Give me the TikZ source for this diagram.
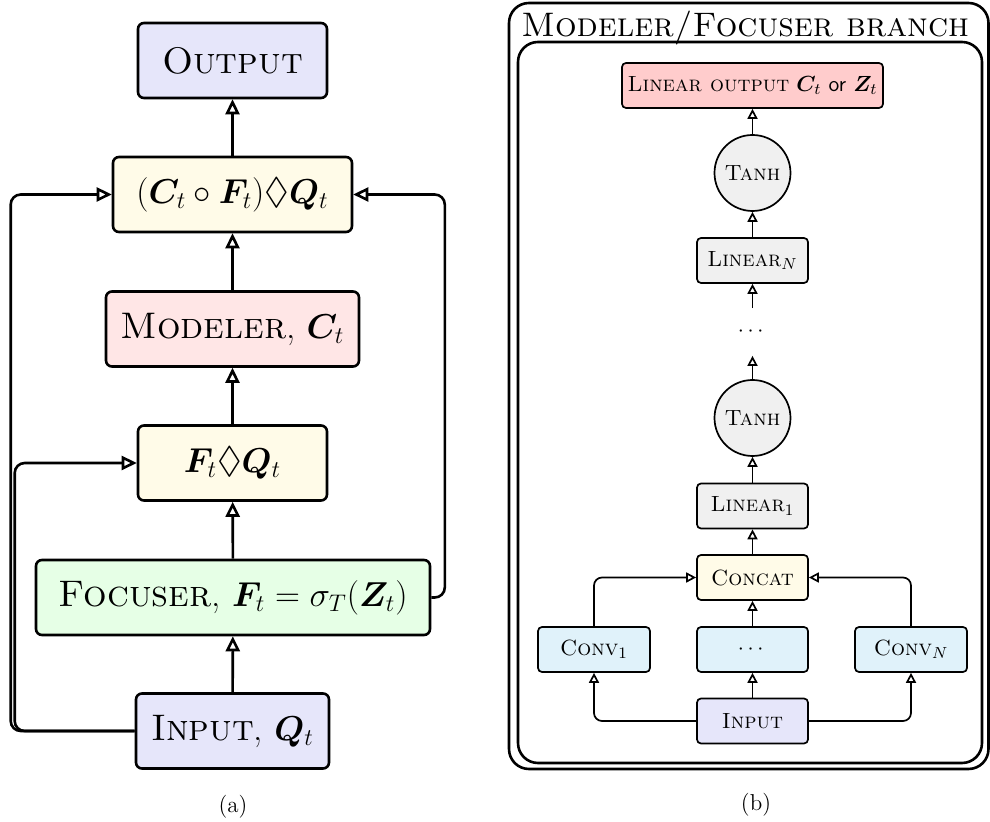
\documentclass[tikz,border=0pt]{standalone}
\usepackage{amsmath,amssymb,bm}
\usetikzlibrary{arrows.meta}
\definecolor{cblue}{RGB}{230,230,250}
\definecolor{cpink}{RGB}{255,230,230}
\definecolor{cyel}{RGB}{255,251,232}
\definecolor{cgreen}{RGB}{230,255,230}
\definecolor{cred}{RGB}{255,204,204}
\definecolor{cgray}{RGB}{240,240,240}
\definecolor{cconv}{RGB}{224,242,250}
\tikzset{
  bigbox/.style={draw, line width=1.3pt, rounded corners=3pt, inner sep=0pt,
    font=\fontsize{18.5}{21}\selectfont, minimum height=37.5pt},
  smallbox/.style={draw, line width=0.85pt, rounded corners=2pt, inner sep=0pt,
    font=\fontsize{11}{13}\selectfont, minimum height=22.5pt, minimum width=55.5pt},
  tanhnode/.style={draw, circle, line width=0.85pt, fill=cgray, inner sep=0pt,
    minimum size=38pt, font=\fontsize{11}{13}\selectfont},
  bigarr/.style={line width=1.3pt, -{Triangle[open, length=7.5pt, width=7pt]}},
  smallarr/.style={line width=0.85pt, -{Triangle[open, length=5pt, width=5pt]}},
  frame/.style={draw, line width=1.3pt, rounded corners=10pt},
  capt/.style={font=\fontsize{11.5}{13}\selectfont}
}
\begin{document}
\begin{tikzpicture}[x=0.5pt, y=-0.5pt]
\useasboundingbox (0,0) rectangle (990,822);
% ---------------- (a) ----------------
\node[bigbox, fill=cblue, minimum width=94.5pt] (out) at (232.5,60.5) {\textsc{Output}};
\node[bigbox, fill=cyel, minimum width=119.5pt] (cf) at (232.5,194.5) {$(\bm{C}_t\circ\bm{F}_t)\Diamond\bm{Q}_t$};
\node[bigbox, fill=cpink, minimum width=126.5pt] (mod) at (232.5,329) {\textsc{Modeler}, $\bm{C}_t$};
\node[bigbox, fill=cyel, minimum width=94.5pt] (fq) at (232.5,463) {$\bm{F}_t\Diamond\bm{Q}_t$};
\node[bigbox, fill=cgreen, minimum width=197pt] (foc) at (233,597.5) {\textsc{Focuser}, $\bm{F}_t=\sigma_T(\bm{Z}_t)$};
\node[bigbox, fill=cblue, minimum width=96.5pt] (inp) at (232.5,731) {\textsc{Input}, $\bm{Q}_t$};

\draw[bigarr] (cf) -- (out);
\draw[bigarr] (mod) -- (cf);
\draw[bigarr] (fq) -- (mod);
\draw[bigarr] (foc) -- (fq);
\draw[bigarr] (inp) -- (foc);
\draw[bigarr, rounded corners=5pt] (inp.west) -- ++(-124,0) |- (cf.west);
\draw[bigarr, rounded corners=5pt] (inp.west) -- ++(-120,0) |- (fq.west);
\draw[bigarr, rounded corners=5pt] (foc.east) -- ++(13.5,0) |- (cf.east);

\node[capt] (ca) at (233,807) {(a)};

% ---------------- (b) ----------------
\draw[frame] (509,3) rectangle (988.5,769);
\draw[frame] (518,42) rectangle (982,763);
\node[anchor=base west, inner sep=0pt, font=\fontsize{17}{20}\selectfont] (title) at (521,37) {\textsc{Modeler/Focuser branch}};

\node[smallbox, fill=cred, minimum width=130.5pt] (lo) at (752.5,85.5) {\textsc{Linear output} $\bm{C}_t$ \textsf{or} $\bm{Z}_t$};
\node[tanhnode] (t1) at (752.5,173) {\textsc{Tanh}};
\node[smallbox, fill=cgray] (ln) at (752.5,260.5) {\textsc{Linear}$_N$};
\node[inner sep=0pt, minimum height=23.5pt, font=\fontsize{11}{13}\selectfont] (dd) at (752.5,332) {$\cdots$};
\node[tanhnode] (t2) at (752.5,418) {\textsc{Tanh}};
\node[smallbox, fill=cgray] (l1) at (752.5,506) {\textsc{Linear}$_1$};
\node[smallbox, fill=cyel] (cc) at (752.5,577.5) {\textsc{Concat}};
\node[smallbox, fill=cconv, minimum width=56pt] (cv1) at (594,649.5) {\textsc{Conv}$_1$};
\node[smallbox, fill=cconv] (cvd) at (752.5,649.5) {$\cdots$};
\node[smallbox, fill=cconv, minimum width=56pt] (cvn) at (911,649.5) {\textsc{Conv}$_N$};
\node[smallbox, fill=cblue] (ip) at (752.5,721) {\textsc{Input}};

\draw[smallarr] (t1) -- (lo);
\draw[smallarr] (ln) -- (t1);
\draw[smallarr] (dd) -- (ln);
\draw[smallarr] (t2) -- (dd);
\draw[smallarr] (l1) -- (t2);
\draw[smallarr] (cc) -- (l1);
\draw[smallarr] (cvd) -- (cc);
\draw[smallarr] (ip) -- (cvd);
\draw[smallarr, rounded corners=4pt] (ip.west) -| (cv1.south);
\draw[smallarr, rounded corners=4pt] (ip.east) -| (cvn.south);
\draw[smallarr, rounded corners=4pt] (cv1.north) |- (cc.west);
\draw[smallarr, rounded corners=4pt] (cvn.north) |- (cc.east);

\node[capt] (cb) at (756,805) {(b)};
\end{tikzpicture}
\end{document}
